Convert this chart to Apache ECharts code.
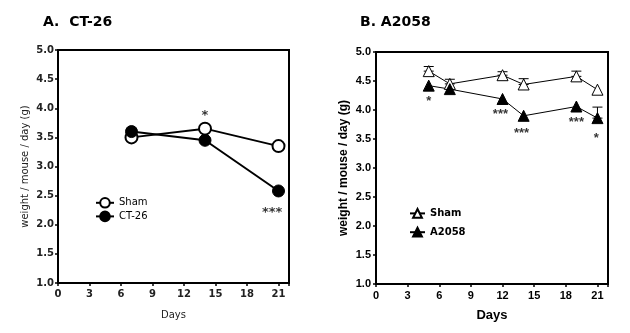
<!DOCTYPE html>
<html><head><meta charset="utf-8">
<script src="https://cdn.jsdelivr.net/npm/echarts@6/dist/echarts.min.js"></script>
<style>html,body{margin:0;padding:0;background:#fff}#c{width:630px;height:333px}</style>
</head><body><div id="c"></div>
<script>
// Panel A: CT-26
const daysA = [7, 14, 21];
const shamA = [3.50, 3.65, 3.35];
const shamAErrLow = [0.06, 0, 0];
const ct26 = [3.60, 3.45, 2.58];
const starsA = [[14, 3.88, '*'], [20.4, 2.20, '***']];
// Panel B: A2058
const daysB = [5, 7, 12, 14, 19, 21];
const shamB = [4.67, 4.45, 4.60, 4.44, 4.58, 4.35];
const shamBErr = [0.08, 0.08, 0.06, 0.10, 0.09, 0];
const a2058 = [4.42, 4.36, 4.19, 3.90, 4.06, 3.86];
const a2058Err = [0, 0, 0, 0, 0, 0.19];
const starsB = [[5, 4.14, '*'], [11.8, 3.93, '***'], [13.8, 3.60, '***'], [19, 3.79, '***'], [20.9, 3.51, '*']];
const xTicks = [0, 3, 6, 9, 12, 15, 18, 21];
const yTicks = [1.0, 1.5, 2.0, 2.5, 3.0, 3.5, 4.0, 4.5, 5.0];

const pair = (xs, ys) => xs.map((x, i) => [x, ys[i]]);
const errData = (xs, ys, up, down) => xs.map((x, i) => [x, ys[i] + (up ? up[i] : 0), ys[i] - (down ? down[i] : 0)]);

function errSeries(xi, data) {
  return {
    type: 'custom', xAxisIndex: xi, yAxisIndex: xi, z: 1, silent: true,
    data: data,
    renderItem: function (params, api) {
      const x = api.value(0), hi = api.value(1), lo = api.value(2);
      if (hi - lo < 1e-6) return;
      const p1 = api.coord([x, hi]), p2 = api.coord([x, lo]);
      const w = 5;
      const ch = [];
      ch.push({ type: 'line', shape: { x1: p1[0], y1: p1[1], x2: p2[0], y2: p2[1] }, style: { stroke: '#000', lineWidth: 1 } });
      ch.push({ type: 'line', shape: { x1: p1[0] - w, y1: p1[1], x2: p1[0] + w, y2: p1[1] }, style: { stroke: '#000', lineWidth: 1 } });
      ch.push({ type: 'line', shape: { x1: p2[0] - w, y1: p2[1], x2: p2[0] + w, y2: p2[1] }, style: { stroke: '#000', lineWidth: 1 } });
      return { type: 'group', children: ch };
    }
  };
}
function starSeries(xi, stars, font, size) {
  return {
    type: 'scatter', xAxisIndex: xi, yAxisIndex: xi, symbolSize: 1, itemStyle: { color: 'rgba(0,0,0,0)' }, silent: true, z: 5,
    data: stars.map(s => ({ value: [s[0], s[1]], name: s[2] })),
    label: { show: true, position: 'inside', formatter: p => p.name, color: '#000', fontFamily: font, fontSize: size, fontWeight: 'bold' }
  };
}

const chart = echarts.init(document.getElementById('c'), null, { renderer: 'canvas' });
const axLine = { show: true, onZero: false, lineStyle: { color: '#000', width: 2 } };
const axTick = { show: true, length: 3, inside: false, lineStyle: { color: '#000', width: 1.5 } };
chart.setOption({
  animation: false,
  backgroundColor: '#fff',
  title: [
    { text: 'A.  CT-26', left: 38, top: 10, textStyle: { fontFamily: 'DejaVu Sans', fontWeight: 'bold', fontSize: 14, color: '#000' } },
    { text: 'B. A2058', left: 355, top: 10, textStyle: { fontFamily: 'DejaVu Sans', fontWeight: 'bold', fontSize: 14, color: '#000' } }
  ],
  grid: [
    { left: 58, right: 341, top: 50, bottom: 50 },
    { left: 376, right: 22, top: 52, bottom: 49 }
  ],
  legend: [
    { data: ['Sham', 'CT-26'], orient: 'vertical', left: 90, top: 192, itemWidth: 18, itemHeight: 12, itemGap: 2,
      textStyle: { fontFamily: 'DejaVu Sans', fontSize: 10, color: '#000' } },
    { data: ['Sham ', 'A2058'], orient: 'vertical', left: 404, top: 203, itemWidth: 15, itemHeight: 11, itemGap: 8,
      textStyle: { fontFamily: 'DejaVu Sans', fontSize: 10, fontWeight: 'bold', color: '#000' } }
  ],
  xAxis: [
    { gridIndex: 0, type: 'value', min: 0, max: 22, interval: 3, axisLine: axLine, axisTick: axTick, splitLine: { show: false },
      axisLabel: { color: '#222', fontFamily: 'DejaVu Sans', fontWeight: 'bold', fontSize: 10, margin: 6, formatter: v => (v % 3 === 0 && v <= 21) ? v : '' },
      name: 'Days', nameLocation: 'middle', nameGap: 27, nameTextStyle: { fontFamily: 'DejaVu Sans', fontSize: 10, color: '#222' } },
    { gridIndex: 1, type: 'value', min: 0, max: 22, interval: 3, axisLine: axLine, axisTick: axTick, splitLine: { show: false },
      axisLabel: { color: '#000', fontFamily: 'Liberation Sans', fontWeight: 'bold', fontSize: 11, margin: 6, formatter: v => (v % 3 === 0 && v <= 21) ? v : '' },
      name: 'Days', nameLocation: 'middle', nameGap: 25, nameTextStyle: { fontFamily: 'Liberation Sans', fontWeight: 'bold', fontSize: 13, color: '#000' } }
  ],
  yAxis: [
    { gridIndex: 0, type: 'value', min: 1, max: 5, interval: 0.5, axisLine: axLine, axisTick: axTick, splitLine: { show: false },
      axisLabel: { color: '#222', fontFamily: 'DejaVu Sans', fontWeight: 'bold', fontSize: 10, margin: 4, formatter: v => v.toFixed(1) },
      name: 'weight / mouse / day (g)', nameLocation: 'middle', nameGap: 28, nameRotate: 90,
      nameTextStyle: { fontFamily: 'DejaVu Sans', fontSize: 10, color: '#222' } },
    { gridIndex: 1, type: 'value', min: 1, max: 5, interval: 0.5, axisLine: axLine, axisTick: axTick, splitLine: { show: false },
      axisLabel: { color: '#000', fontFamily: 'Liberation Sans', fontWeight: 'bold', fontSize: 11, margin: 5, formatter: v => v.toFixed(1) },
      name: 'weight / mouse / day (g)', nameLocation: 'middle', nameGap: 26, nameRotate: 90,
      nameTextStyle: { fontFamily: 'Liberation Sans', fontWeight: 'bold', fontSize: 12, color: '#000' } }
  ],
  series: [
    errSeries(0, errData(daysA, shamA, null, shamAErrLow)),
    { name: 'Sham', type: 'line', xAxisIndex: 0, yAxisIndex: 0, data: pair(daysA, shamA), symbol: 'circle', symbolSize: 12,
      lineStyle: { color: '#000', width: 2 }, itemStyle: { color: '#fff', borderColor: '#000', borderWidth: 2 }, z: 3 },
    { name: 'CT-26', type: 'line', xAxisIndex: 0, yAxisIndex: 0, data: pair(daysA, ct26), symbol: 'circle', symbolSize: 12,
      lineStyle: { color: '#000', width: 2 }, itemStyle: { color: '#000', borderColor: '#000', borderWidth: 1 }, z: 3 },
    starSeries(0, starsA, 'DejaVu Sans', 13),
    errSeries(1, errData(daysB, shamB, shamBErr, null)),
    errSeries(1, errData(daysB, a2058, a2058Err, null)),
    { name: 'Sham ', type: 'line', xAxisIndex: 1, yAxisIndex: 1, data: pair(daysB, shamB), symbol: 'triangle', symbolSize: 11,
      lineStyle: { color: '#000', width: 1 }, itemStyle: { color: '#fff', borderColor: '#000', borderWidth: 1 }, z: 3 },
    { name: 'A2058', type: 'line', xAxisIndex: 1, yAxisIndex: 1, data: pair(daysB, a2058), symbol: 'triangle', symbolSize: 11,
      lineStyle: { color: '#000', width: 1 }, itemStyle: { color: '#000', borderColor: '#000', borderWidth: 1 }, z: 3 },
    starSeries(1, starsB, 'Liberation Sans', 13)
  ],
  graphic: [
    { type: 'rect', shape: { x: 58, y: 50, width: 231, height: 233 }, style: { fill: 'none', stroke: '#000', lineWidth: 2 }, silent: true, z: 0 },
    { type: 'rect', shape: { x: 376, y: 52, width: 232, height: 232 }, style: { fill: 'none', stroke: '#000', lineWidth: 2 }, silent: true, z: 0 }
  ]
});
</script></body></html>
